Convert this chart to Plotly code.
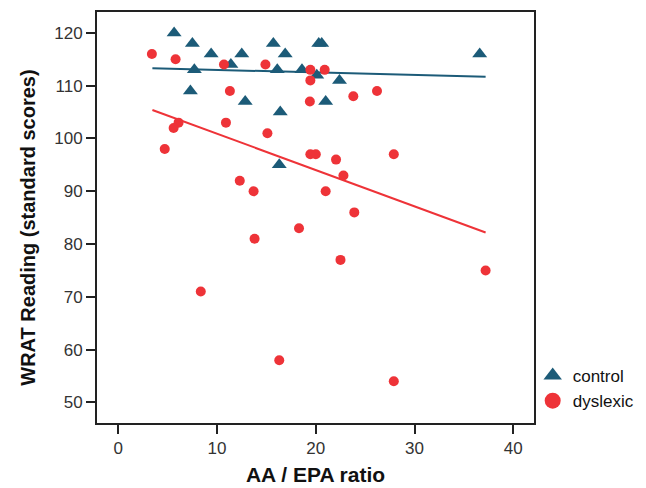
import plotly.graph_objects as go

# control group
control_x = [5.65, 7.5, 9.4, 12.5, 15.7, 16.9, 20.3, 20.6, 36.6, 11.4, 7.7, 16.1,
             18.6, 20.1, 22.4, 7.3, 12.85, 21.0, 16.4, 16.3]
control_y = [120, 118, 116, 116, 118, 116, 118, 118, 116, 114, 113, 113,
             113, 112, 111, 109, 107, 107, 105, 95]

# dyslexic group
dys_x = [3.4, 5.8, 10.7, 14.9, 19.45, 20.9, 19.45, 11.3, 23.8, 26.2, 19.4, 6.1,
         5.6, 10.9, 15.1, 4.7, 19.45, 20.0, 22.05, 27.9, 22.8, 12.3, 13.7, 21.0,
         23.9, 18.3, 13.8, 22.5, 37.2, 8.35, 16.3, 27.9]
dys_y = [116, 115, 114, 114, 113, 113, 111, 109, 108, 109, 107, 103,
         102, 103, 101, 98, 97, 97, 96, 97, 93, 92, 90, 90,
         86, 83, 81, 77, 75, 71, 58, 54]

# fitted regression lines (endpoints)
fit_x = [3.45, 37.2]
control_fit_y = [113.3, 111.7]
dys_fit_y = [105.4, 82.2]

x_ticks = [0, 10, 20, 30, 40]
y_ticks = [50, 60, 70, 80, 90, 100, 110, 120]

TEAL = "#1c5b78"
RED = "#ee3338"
FONT = "Liberation Sans, Arial, sans-serif"

fig = go.Figure()
fig.add_trace(go.Scatter(x=fit_x, y=control_fit_y, mode="lines",
                         line=dict(color=TEAL, width=2), showlegend=False, hoverinfo="skip"))
fig.add_trace(go.Scatter(x=fit_x, y=dys_fit_y, mode="lines",
                         line=dict(color=RED, width=2), showlegend=False, hoverinfo="skip"))
fig.add_trace(go.Scatter(x=control_x, y=control_y, mode="markers", showlegend=False,
                         marker=dict(symbol="triangle-up", size=13, color=TEAL)))
fig.add_trace(go.Scatter(x=dys_x, y=dys_y, mode="markers", showlegend=False,
                         marker=dict(symbol="circle", size=10, color=RED)))
# legend entries
fig.add_trace(go.Scatter(x=[None], y=[None], mode="markers", name="control",
                         marker=dict(symbol="triangle-up", size=16, color=TEAL)))
fig.add_trace(go.Scatter(x=[None], y=[None], mode="markers", name="dyslexic",
                         marker=dict(symbol="circle", size=16, color=RED)))

fig.update_layout(
    width=638, height=480,
    margin=dict(l=89, r=112, t=2, b=65),
    paper_bgcolor="white", plot_bgcolor="white",
    font=dict(family=FONT, size=17, color="#222"),
    legend=dict(x=0.997, y=0.158, xanchor="left", yanchor="top",
                font=dict(size=17, color="#111"), tracegroupgap=0,
                itemwidth=30, bgcolor="rgba(0,0,0,0)"),
    annotations=[
        dict(text="<b>WRAT Reading (standard scores)</b>", textangle=-90,
             xref="paper", yref="paper", x=-0.158, y=0.475,
             xanchor="center", yanchor="middle", showarrow=False,
             font=dict(size=20, color="#111")),
    ],
)
fig.update_xaxes(
    range=[-2.16, 42.1], tickvals=x_ticks, ticks="outside", ticklen=9, tickwidth=1.5,
    tickcolor="#222", showline=True, linecolor="#222", linewidth=2, mirror=True,
    showgrid=False, zeroline=False, tickfont=dict(size=17, color="#333"),
    title=dict(text="<b>AA / EPA ratio</b>", font=dict(size=21, color="#111"), standoff=10),
)
fig.update_yaxes(
    range=[46.1, 123.96], tickvals=y_ticks, ticks="outside", ticklen=9, tickwidth=1.5,
    tickcolor="#222", showline=True, linecolor="#222", linewidth=2, mirror=True,
    showgrid=False, zeroline=False, tickfont=dict(size=17, color="#333"),
)

fig.write_html("out.html")
